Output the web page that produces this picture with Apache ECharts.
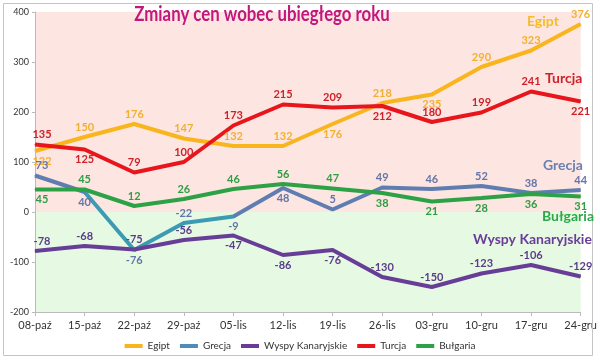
<!DOCTYPE html>
<html><head><meta charset="utf-8">
<script src="https://cdn.jsdelivr.net/npm/echarts@6/dist/echarts.min.js"></script>
<style>html,body{margin:0;padding:0;background:#fff}#c{width:600px;height:362px}</style>
</head><body><div id="c"></div>
<script>
var categories = ['08-paź','15-paź','22-paź','29-paź','05-lis','12-lis','19-lis','26-lis','03-gru','10-gru','17-gru','24-gru'];
var egipt = [122,150,176,147,132,132,176,218,235,290,323,376];
var grecja = [73,40,-76,-22,-9,48,5,49,46,52,38,44];
var wyspy = [-78,-68,-75,-56,-47,-86,-76,-130,-150,-123,-106,-129];
var turcja = [135,125,79,100,173,215,209,212,180,199,241,221];
var bulgaria = [45,45,12,26,46,56,47,38,21,28,36,31];
var yTicks = [-200,-100,0,100,200,300,400];

// label positions (t = top, b = bottom)
var egiptPos = 'btttttbtbttt';
var grecjaPos = 'tbbtbbtttttt';
var wyspyPos = 'ttttbbbttttt';
var turcjaPos = 'tbtttttbtttb';
var bulgariaPos = 'bttttttbbbbb';

var FONT = 'Lato, "Open Sans", sans-serif';
function mk(vals, pos, lblColor) {
  return vals.map(function (v, i) {
    var lb = { position: pos[i] === 't' ? 'top' : 'bottom', color: lblColor };
    if (i === 0) lb.offset = [7, 0];
    return { value: [i, v], label: lb };
  });
}
function series(name, vals, pos, color, lblColor, lineColor) {
  var ls = { width: 4 };
  if (lineColor) ls.color = lineColor;
  return {
    name: name, type: 'line', data: mk(vals, pos, lblColor),
    symbol: 'circle', symbolSize: 1, showSymbol: true,
    lineStyle: ls, itemStyle: { color: color },
    label: { show: true, fontFamily: FONT, fontWeight: 'bold', fontSize: 11, distance: 4,
      formatter: function (p) { return p.value[1]; } },
    emphasis: { disabled: true },
    z: 3
  };
}
var chart = echarts.init(document.getElementById('c'));
var blueGrey = '#5F7DB0', teal = '#3B9BB3';
var sEgipt = series('Egipt', egipt, egiptPos, '#F9B51E', '#F2B030', '#F9B51E');
sEgipt.markArea = { silent: true, z: 0, data: [
  [{ yAxis: 0, itemStyle: { color: '#FDE6E1' } }, { yAxis: 400 }],
  [{ yAxis: -200, itemStyle: { color: '#E6F9E2' } }, { yAxis: 0 }]
] };
chart.setOption({
  animation: false,
  backgroundColor: '#fff',
  grid: { left: 35, right: 17, top: 12, bottom: 50 },
  xAxis: [{
    type: 'category', data: categories, boundaryGap: false,
    axisLine: { show: false }, axisTick: { show: false },
    axisLabel: { fontFamily: FONT, fontSize: 11, color: '#333', margin: 8 }
  }, {
    type: 'category', data: categories, boundaryGap: false, position: 'bottom',
    axisLine: { show: true, onZero: true, lineStyle: { color: '#bbb' } },
    axisTick: { show: true, length: 4, lineStyle: { color: '#bbb' } },
    axisLabel: { show: false }
  }],
  yAxis: {
    type: 'value', min: yTicks[0], max: yTicks[yTicks.length - 1], interval: 100,
    axisLine: { show: true, lineStyle: { color: '#bbb' } },
    axisTick: { show: true, length: 3, lineStyle: { color: '#bbb' } },
    axisLabel: { fontFamily: FONT, fontSize: 9, color: '#333', margin: 6 },
    splitLine: { lineStyle: { color: '#e6d2cf' } }
  },
  visualMap: {
    show: false, type: 'piecewise', seriesIndex: 1, dimension: 0,
    pieces: [{ lt: 1, color: blueGrey }, { gte: 1, lte: 4, color: teal }, { gt: 4, color: blueGrey }]
  },
  legend: {
    bottom: 6, left: 'center', icon: 'rect', itemWidth: 18, itemHeight: 4, itemGap: 10,
    textStyle: { fontFamily: FONT, fontSize: 10, color: '#333' },
    data: [
      { name: 'Egipt', itemStyle: { color: '#F9B51E' } },
      { name: 'Grecja', itemStyle: { color: '#4F8DB8' } },
      { name: 'Wyspy Kanaryjskie', itemStyle: { color: '#673D97' } },
      { name: 'Turcja', itemStyle: { color: '#E8161C' } },
      { name: 'Bułgaria', itemStyle: { color: '#2DA146' } }
    ]
  },
  series: [
    sEgipt,
    series('Grecja', grecja, grecjaPos, '#4F8DB8', '#6475A8', null),
    series('Wyspy Kanaryjskie', wyspy, wyspyPos, '#673D97', '#5A3D8A', '#673D97'),
    series('Turcja', turcja, turcjaPos, '#E8161C', '#D0202A', '#E8161C'),
    series('Bułgaria', bulgaria, bulgariaPos, '#2DA146', '#2E9E45', '#2DA146')
  ],
  graphic: [
    { type: 'rect', shape: { x: 3.5, y: 3.5, width: 589, height: 352 }, style: { fill: 'none', stroke: '#c4c4c4', lineWidth: 1 }, z: 100 },
    { type: 'text', x: 262, y: 5, scaleX: 0.84, z: 100, style: { text: 'Zmiany cen wobec ubiegłego roku', textAlign: 'center', fontFamily: FONT, fontWeight: 'bold', fontSize: 20, fill: '#C2177C' } },
    { type: 'text', x: 527, y: 14, z: 100, style: { text: 'Egipt', fontFamily: FONT, fontWeight: 'bold', fontSize: 14, fill: '#F5BC2A' } },
    { type: 'text', x: 545, y: 71, z: 100, style: { text: 'Turcja', fontFamily: FONT, fontWeight: 'bold', fontSize: 14, fill: '#D0202A' } },
    { type: 'text', x: 543, y: 158, z: 100, style: { text: 'Grecja', fontFamily: FONT, fontWeight: 'bold', fontSize: 14, fill: '#6B80B2' } },
    { type: 'text', x: 542, y: 209, z: 100, style: { text: 'Bułgaria', fontFamily: FONT, fontWeight: 'bold', fontSize: 14, fill: '#2EA84A' } },
    { type: 'text', x: 473, y: 232, z: 100, style: { text: 'Wyspy Kanaryjskie', fontFamily: FONT, fontWeight: 'bold', fontSize: 14, fill: '#6A3D9A' } }
  ]
});
</script></body></html>
